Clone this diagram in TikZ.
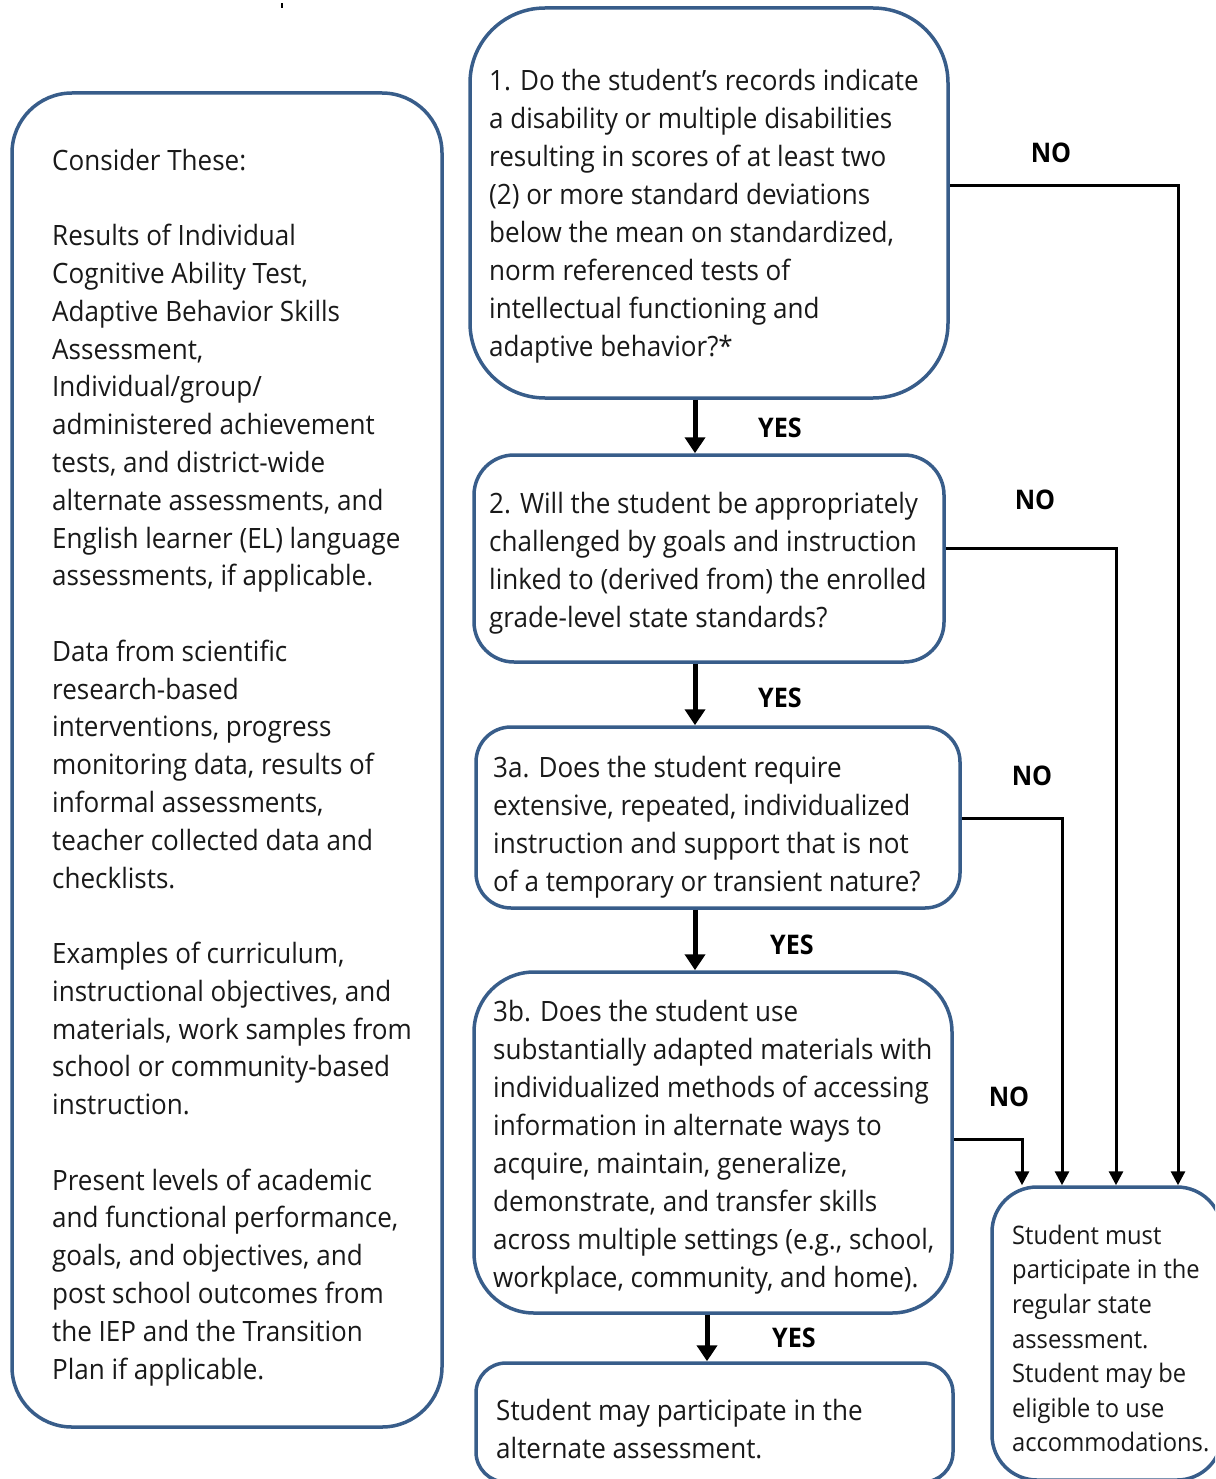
\documentclass[tikz,border=0pt]{standalone}
\usepackage{fontspec}
\setmainfont[FakeStretch=0.93]{Open Sans}
\usetikzlibrary{arrows.meta,calc}
\definecolor{boxblue}{RGB}{56,93,138}
\definecolor{txt}{RGB}{25,25,25}
\tikzset{
  box/.style={draw=boxblue, line width=3.5pt, fill=white, inner sep=0pt},
  body/.style={anchor=north west, inner sep=0pt, align=left, text=txt, font=\fontsize{28}{38}\selectfont},
  leftbody/.style={body, font=\fontsize{28}{37.8}\selectfont},
  smallbody/.style={body, font=\fontsize{25.5}{34.6}\selectfont},
  lbl/.style={font=\bfseries\fontsize{27}{30}\selectfont, text=black, inner sep=0pt},
  yesarrow/.style={line width=5pt, -{Triangle[width=20pt,length=16pt]}},
  noarrow/.style={line width=3pt, -{Triangle[width=14pt,length=14pt]}},
}
\newcommand{\st}{\rule{0pt}{30pt}}
\begin{document}
\begin{tikzpicture}[x=1pt,y=-1pt]
\useasboundingbox (0,0) rectangle (1215,1479);
\clip (0,0) rectangle (1215,1479);
\fill[black] (281,3) rectangle (283,8);
% boxes
\node[box, rounded corners=60pt, minimum width=430pt, minimum height=1334pt] (lb) at (227,760) {};
\node[box, rounded corners=75pt, minimum width=478pt, minimum height=390pt] (b1) at (709,203) {};
\node[box, rounded corners=40pt, minimum width=470pt, minimum height=207pt] (b2) at (709,558.5) {};
\node[box, rounded corners=35pt, minimum width=484pt, minimum height=181pt] (b3a) at (718,817.5) {};
\node[box, rounded corners=60pt, minimum width=478pt, minimum height=341pt] (b3b) at (713,1142.5) {};
\node[box, rounded corners=30pt, minimum width=477pt, minimum height=119pt] (fin) at (714.5,1422.5) {};
\node[box, rounded corners=45pt, minimum width=230pt, minimum height=293pt] (rb) at (1107,1333.5) {};
% texts
\node[leftbody] (tl) at (52,140) {\st Consider These:\\[37.6pt]
Results of Individual\\
Cognitive Ability Test,\\
Adaptive Behavior Skills\\
Assessment,\\
Individual/group/\\
administered achievement\\
tests, and district-wide\\
alternate assessments, and\\
English learner (EL) language\\
assessments, if applicable.\\[37.6pt]
Data from scientific\\
research-based\\
interventions, progress\\
monitoring data, results of\\
informal assessments,\\
teacher collected data and\\
checklists.\\[37.6pt]
Examples of curriculum,\\
instructional objectives, and\\
materials, work samples from\\
school or community-based\\
instruction.\\[37.6pt]
Present levels of academic\\
and functional performance,\\
goals, and objectives, and\\
post school outcomes from\\
the IEP and the Transition\\
Plan if applicable.};
\node[body] (t1) at (489,60) {\st 1. Do the student’s records indicate\\
a disability or multiple disabilities\\
resulting in scores of at least two\\
(2) or more standard deviations\\
below the mean on standardized,\\
norm referenced tests of\\
intellectual functioning and\\
adaptive behavior?*};
\node[body] (t2) at (489,483) {\st 2. Will the student be appropriately\\
challenged by goals and instruction\\
linked to (derived from) the enrolled\\
grade-level state standards?};
\node[body] (t3a) at (493,747) {\st 3a. Does the student require\\
extensive, repeated, individualized\\
instruction and support that is not\\
of a temporary or transient nature?};
\node[body] (t3b) at (493,991) {\st 3b. Does the student use\\
substantially adapted materials with\\
individualized methods of accessing\\
information in alternate ways to\\
acquire, maintain, generalize,\\
demonstrate, and transfer skills\\
across multiple settings (e.g., school,\\
workplace, community, and home).};
\node[body] (tf) at (496,1390) {\st Student may participate in the\\
alternate assessment.};
\node[smallbody] (tr) at (1012,1214) {\st Student must\\
participate in the\\
regular state\\
assessment.\\
Student may be\\
eligible to use\\
accommodations.};
% YES arrows
\coordinate (y1) at ($(b1.south)+(-14,0)$);
\coordinate (y2) at ($(b2.south)+(-14,0)$);
\coordinate (y3) at ($(b3a.south)+(-23,0)$);
\coordinate (y4) at ($(b3b.south)+(-6,0)$);
\draw[yesarrow] (y1) -- (y1 |- b2.north);
\draw[yesarrow] (y2) -- (y2 |- b3a.north);
\draw[yesarrow] (y3) -- (y3 |- b3b.north);
\draw[yesarrow] (y4) -- (y4 |- fin.north);
\node[lbl] (ly1) at (780,428) {YES};
\node[lbl] (ly2) at (780,698) {YES};
\node[lbl] (ly3) at (792,945) {YES};
\node[lbl] (ly4) at (794,1338) {YES};
% NO arrows
\coordinate (n1) at ($(b1.east)+(0,-17)$);
\coordinate (n2) at ($(b2.east)+(0,-10)$);
\coordinate (n3) at ($(b3a.east)+(0,0.5)$);
\coordinate (n4) at ($(b3b.east)+(0,-3.5)$);
\coordinate (r1) at ($(rb.north)+(71,0)$);
\coordinate (r2) at ($(rb.north)+(9,0)$);
\coordinate (r3) at ($(rb.north)+(-45,0)$);
\coordinate (r4) at ($(rb.north)+(-85,0)$);
\draw[noarrow] (n1) -| (r1);
\draw[noarrow] (n2) -| (r2);
\draw[noarrow] (n3) -| (r3);
\draw[noarrow] (n4) -| (r4);
\node[lbl] (ln1) at (1051,153) {NO};
\node[lbl] (ln2) at (1035,500) {NO};
\node[lbl] (ln3) at (1032,776) {NO};
\node[lbl] (ln4) at (1009,1097) {NO};
\end{tikzpicture}
\end{document}
